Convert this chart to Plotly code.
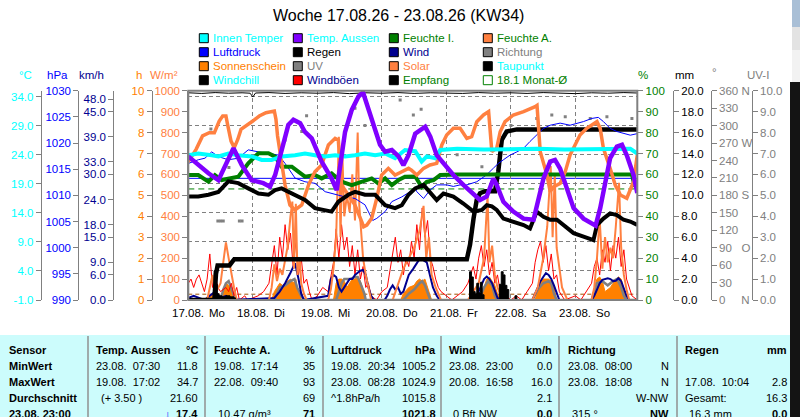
import plotly.graph_objects as go

W, H = 800, 417
def px(x): return x / W
def py(y): return 1 - y / H

FONT = "Liberation Sans, Arial, Helvetica, sans-serif"
CYAN = "#00ffff"; PURPLE = "#8000ff"; GREEN = "#008000"; CORAL = "#ff8040"
BLUE = "#0000ff"; NAVY = "#000090"; GRAY = "#808080"; ORANGE = "#ff8000"
RED = "#ff0000"; BLACK = "#000000"; BROWN = "#a05000"

# ---------------- data (hours since 17.08. 00:00) ----------------
day_hours = [0, 24, 48, 72, 96, 120, 144]
day_dates = ["17.08.", "18.08.", "19.08.", "20.08.", "21.08.", "22.08.", "23.08."]
day_names = ["Mo", "Di", "Mi", "Do", "Fr", "Sa", "So"]

temp_out_h = [0, 3.7, 7.5, 11.2, 14.9, 16.8, 19.9, 23.6, 27.9, 30.4, 32.3, 34.7, 37.2, 39.1, 41.6, 43.4, 45.9, 49.6, 53.3, 55.2, 56.4, 58.3, 60.8, 63.3, 65.0, 66.4, 68.8, 71.3, 73.2, 75.7, 78.2, 80.0, 81.9, 84.4, 88.1, 90.0, 92.4, 94.9, 98.6, 102.3, 106.1, 108.5, 111.0, 113.5, 114.7, 117.2, 120.9, 124.7, 128.4, 130.2, 132.1, 134.6, 136.4, 138.3, 140.8, 143.3, 147.0, 151.5, 153.2, 155.1, 156.9, 159.4, 161.3, 163.1, 165.6, 167.0]
temp_out = [23.7, 22.2, 20.8, 19.6, 23.1, 25.1, 22.2, 19.6, 19.1, 18.5, 20.5, 25.1, 29.1, 30.0, 29.4, 27.9, 26.8, 22.8, 19.9, 17.9, 21.6, 27.9, 31.7, 34.0, 34.7, 32.8, 29.1, 25.7, 24.5, 24.8, 23.7, 22.2, 23.9, 27.6, 28.8, 27.1, 23.9, 22.5, 20.5, 18.8, 17.1, 16.2, 16.8, 19.9, 18.8, 15.9, 14.2, 13.0, 12.8, 15.9, 19.9, 22.8, 23.1, 21.6, 18.2, 14.8, 13.0, 11.8, 14.8, 19.3, 23.4, 25.4, 25.7, 23.9, 20.5, 17.4]

temp_in_h = [0, 3.7, 8.7, 11.2, 14.9, 18.6, 23.6, 27.3, 31.0, 34.7, 39.7, 43.4, 47.1, 50.9, 54.6, 58.3, 62.0, 65.7, 69.5, 73.2, 76.9, 80.6, 84.4, 86.8, 88.7, 91.8, 93.7, 100, 110, 120, 130, 140, 150, 158, 164.4, 167]
temp_in = [23.9, 24.2, 23.9, 23.7, 24.2, 23.9, 23.7, 23.1, 23.1, 23.7, 23.9, 24.2, 23.9, 23.7, 23.9, 23.7, 23.9, 24.2, 23.9, 24.2, 23.4, 24.8, 24.6, 22.8, 23.7, 23.4, 24.8, 25.0, 24.9, 25.0, 25.0, 24.9, 25.0, 25.0, 25.0, 24.2]

hum_in_h = [0, 3.7, 7.5, 9.9, 12.4, 14.9, 18.6, 22.3, 26.1, 29.8, 32.3, 34.7, 38.5, 40.9, 43.4, 47.1, 49.6, 53.3, 57.0, 60.8, 64.5, 68.2, 70.7, 73.2, 75.7, 78.2, 80.6, 84.4, 86.8, 88.7, 91.2, 93.7, 100, 110, 120, 130, 140, 150, 160, 165.0, 165.9, 167]
hum_in = [59.7, 59.7, 56.5, 59.7, 57.3, 58.1, 58.9, 65.3, 70.1, 70.1, 68.5, 63.7, 63.7, 61.3, 58.9, 59.7, 58.1, 60.5, 56.5, 54.9, 56.5, 58.1, 55.7, 58.1, 54.9, 57.3, 58.9, 59.0, 54.1, 56.5, 57.3, 59.7, 60.0, 60.0, 59.8, 60.0, 59.9, 60.0, 60.0, 60.0, 54.9, 54.1]

hum_out_h = [0, 2.9, 5.3, 7.8, 9.7, 11.5, 12.8, 14.0, 14.6, 15.9, 17.1, 18.4, 19.6, 21.5, 24.0, 26.4, 28.9, 32.0, 32.6, 33.2, 34.5, 36.0, 37.8, 39.7, 42.2, 44.7, 47.1, 49.6, 52.1, 54.6, 55.8, 57.0, 59.5, 62.0, 64.5, 65.2, 66.4, 68.2, 70.1, 71.9, 74.4, 76.9, 79.4, 81.9, 83.0, 85.0, 87.5, 89.9, 92.4, 94.3, 96.1, 98.6, 101.1, 103.6, 105.4, 107.3, 109.8, 111.7, 112.9, 114.7, 116.0, 117.8, 120.9, 124.7, 129.0, 129.7, 130.9, 133.4, 134.6, 135.9, 138.3, 140.2, 142.0, 143.3, 145.7, 148.2, 152.0, 153.2, 154.4, 156.9, 158.8, 160.7, 163.1, 165.6, 167.0]
hum_out = [66, 72.0, 78.4, 79.9, 79.9, 85.5, 87.9, 87.9, 83.9, 75.9, 72.8, 76.7, 81.5, 83.1, 85.5, 87.9, 89.5, 90.3, 86.3, 78.4, 67.2, 54.9, 45.4, 43.0, 45.4, 54.9, 61.3, 64.5, 74.1, 77.2, 76.4, 54.9, 50.2, 45.4, 37.4, 35.0, 35.8, 39.0, 48.6, 59.7, 62.9, 59.7, 61.3, 62.9, 62.0, 59.7, 62.9, 64.5, 65.3, 74.1, 78.8, 82.0, 82.0, 77.2, 78.0, 85.2, 88.4, 90.0, 70.9, 72.5, 80.4, 85.2, 88.4, 90.0, 92.4, 93.0, 70.9, 59.7, 51.8, 54.1, 55.7, 61.3, 69.3, 72.5, 78.8, 82.0, 85.2, 82.0, 72.5, 62.9, 54.9, 50.2, 48.6, 56.5, 69.3]

dew_h = [0, 3.7, 7.5, 11.2, 14.9, 18.6, 22.3, 26.1, 29.8, 32.3, 34.7, 37.2, 39.7, 43.4, 47.1, 50.9, 53.3, 55.8, 59.5, 62.0, 65.7, 69.5, 73.2, 76.9, 79.4, 81.9, 84.4, 87.5, 89.9, 92.4, 94.9, 98.6, 102.3, 106.1, 109.2, 111.0, 112.9, 114.7, 117.2, 120.9, 124.7, 127.1, 129.6, 132.1, 134.6, 137.1, 139.6, 143.3, 147.0, 150.7, 152.0, 154.4, 156.9, 159.4, 161.9, 164.4, 167]
dew = [16.8, 16.8, 17.1, 17.6, 19.4, 19.1, 18.2, 17.3, 17.1, 17.9, 18.2, 17.6, 17.1, 16.2, 14.8, 14.5, 14.2, 15.9, 17.1, 17.6, 17.1, 17.1, 15.3, 14.8, 15.3, 17.1, 18.2, 18.8, 17.6, 16.2, 17.3, 16.8, 15.6, 14.2, 14.5, 15.3, 15.1, 14.5, 13.0, 12.5, 11.9, 11.3, 14.2, 13.3, 12.8, 12.8, 11.9, 10.5, 9.9, 9.3, 11.9, 13.0, 13.9, 13.6, 12.8, 12.5, 11.9]

pres_h = [0, 3.7, 6.2, 8.7, 11.2, 14.9, 18.6, 22.3, 26.1, 29.8, 33.5, 36.0, 37.2, 39.7, 43.4, 47.1, 50.9, 55.8, 58.3, 62.0, 65.7, 68.6, 70.1, 73.2, 75.7, 79.4, 84.4, 85.0, 87.5, 89.9, 92.4, 96.1, 98.6, 101.1, 103.6, 107.3, 110.9, 113.5, 115.3, 117.2, 119.7, 122.2, 124.7, 127.1, 129.6, 132.1, 134.6, 138.3, 142.0, 147.0, 150.1, 152.5, 154.4, 156.9, 159.4, 161.9, 164.4, 167]
pres = [1016.1, 1016.8, 1017.1, 1018.3, 1017.4, 1016.8, 1017.1, 1018.7, 1018.3, 1018.0, 1017.7, 1016.1, 1015.2, 1013.3, 1012.6, 1012.3, 1010.7, 1010.1, 1009.7, 1009.4, 1008.2, 1005.2, 1005.6, 1006.9, 1008.8, 1009.7, 1011.3, 1010.7, 1009.4, 1011.0, 1012.0, 1012.0, 1011.7, 1012.0, 1012.0, 1012.6, 1013.9, 1015.2, 1016.1, 1016.8, 1017.7, 1018.3, 1019.0, 1020.3, 1021.5, 1022.8, 1023.4, 1023.8, 1023.4, 1024.1, 1024.7, 1024.9, 1024.1, 1022.8, 1022.2, 1021.9, 1021.5, 1021.8]

rain_h = [0, 9.7, 10.3, 10.9, 15.3, 17.1, 103.6, 104.8, 106.1, 107.3, 108.5, 110.4, 114.1, 115.3, 116.6, 118.4, 122.2, 167]
rain_total = [0, 0, 2.5, 3.3, 3.3, 3.9, 3.9, 5.3, 7.8, 9.6, 10.2, 10.4, 10.4, 12.3, 15.3, 16.1, 16.3, 16.3]

rainrate_h = [9.0, 9.6, 10.2, 10.8, 11.4, 12.5, 14.0, 15.5, 17.0, 17.6, 104.0, 104.6, 105.3, 106.0, 106.7, 107.3, 108.0, 108.7, 109.3, 110.0, 115.0, 115.7, 116.4, 117.1, 117.8, 118.5, 119.2, 121.5, 122.2]
rainrate = [0, 2.8, 1.5, 0.6, 0.4, 0.3, 0.4, 0.3, 0.2, 0, 0, 2.7, 2.2, 0.8, 0.6, 1.6, 0.7, 1.7, 0.5, 0, 0, 1.5, 2.7, 2.4, 1.4, 1.0, 0, 0.4, 0]

sun_h = [0, 7, 8, 9, 10, 12, 13, 14, 15, 16, 17, 18, 31, 32, 33, 34, 35, 36, 37, 38, 39, 40, 40.6, 41.5, 42, 54, 55, 56, 57, 58, 59, 60, 61, 62, 63, 64, 65, 65.7, 79, 80, 82, 84, 85, 86, 87, 88, 89, 90, 90.5, 109, 110, 111, 112, 113, 114, 115, 116, 129, 130, 131, 132, 133, 134, 135, 136, 137, 150, 151, 152, 153, 154, 155, 156, 157, 158, 159, 160, 161, 162, 163, 167]
sun = [0, 0, 0.2, 0.3, 0, 0, 0.5, 0.8, 0.7, 0.5, 0.2, 0, 0, 0.4, 0.6, 0.8, 0.7, 0.8, 0.9, 1.0, 0.8, 1.0, 0.5, 0.3, 0, 0, 0.8, 1.0, 1.0, 0.9, 0.6, 0.8, 1.0, 1.0, 1.1, 0.9, 0.5, 0, 0, 0.3, 0.6, 0.7, 0.9, 1.0, 0.9, 1.0, 0.6, 0.2, 0, 0, 0.6, 1.0, 1.1, 0.9, 0.7, 0.3, 0, 0, 0.5, 0.8, 1.0, 1.0, 1.0, 0.9, 0.6, 0, 0, 0.6, 1.0, 1.1, 0.9, 0.4, 0.5, 0.6, 0.8, 1.0, 1.1, 1.0, 0.5, 0, 0]

solar_h = [0, 7, 8, 9, 10, 12, 13, 14, 15, 16, 17, 18, 30, 31, 32, 33, 34, 35, 36, 37, 38, 38.7, 39.3, 40, 40.6, 41.5, 42, 43, 44, 52, 53, 54, 55, 56, 56.6, 57.3, 58, 59, 60, 61, 62, 63, 63.6, 64.3, 65, 66, 67, 68, 76, 78, 80, 82, 84, 86, 87.5, 88.5, 89.5, 90.5, 92, 94, 104, 106, 108, 110, 111.3, 112, 113, 114, 115, 117, 128, 130, 132, 133.5, 134.8, 135.5, 136.3, 137, 138, 139, 141, 150, 151, 152, 153, 154, 155, 156, 157, 158, 159, 160.2, 161, 162, 163, 164, 167]
solar = [0, 0, 60, 120, 30, 80, 180, 275, 200, 120, 60, 0, 0, 60, 170, 90, 150, 120, 200, 260, 400, 470, 150, 460, 120, 200, 80, 30, 0, 0, 50, 150, 300, 780, 300, 700, 400, 500, 420, 600, 380, 800, 450, 300, 200, 120, 60, 0, 0, 80, 150, 200, 250, 330, 450, 200, 300, 120, 60, 0, 0, 40, 80, 200, 500, 180, 260, 120, 60, 0, 0, 60, 200, 350, 640, 300, 600, 250, 150, 60, 0, 0, 60, 200, 390, 150, 300, 180, 250, 200, 350, 560, 250, 120, 50, 0, 0]

uv_h = [0, 12, 13, 14, 15, 16, 17, 18, 32, 33, 34, 36, 38, 39.5, 40.5, 42, 43, 55, 56, 57, 58, 60, 62, 63, 64, 65.5, 66, 80, 82, 84, 86, 87, 88, 89, 90, 108, 110, 111.5, 113, 114, 115, 128, 130, 132, 134, 135, 136, 137, 150, 151, 152, 154, 156, 158, 159.5, 161, 162, 163, 167]
uv = [0, 0, 0.5, 0.8, 0.9, 0.5, 0.2, 0, 0, 0.3, 0.6, 0.7, 0.9, 1.0, 0.6, 0.2, 0, 0, 0.4, 0.8, 1.0, 1.0, 1.1, 1.1, 0.8, 0.3, 0, 0, 0.3, 0.5, 0.8, 0.9, 0.7, 0.3, 0, 0, 0.6, 0.9, 0.7, 0.2, 0, 0, 0.5, 0.8, 0.9, 0.8, 0.3, 0, 0, 0.4, 0.8, 0.9, 0.7, 0.9, 1.0, 0.6, 0.2, 0, 0]

wind_h = [0, 2, 4, 6, 8, 10, 12, 14, 16, 32, 34, 36, 38, 39.7, 41, 42, 43, 52, 53, 54, 55, 56, 57, 58, 59, 60, 61, 62, 63, 64, 65, 66, 67, 68, 69, 73, 74, 75, 76, 77, 78, 79, 80, 81, 82, 83.7, 86.2, 88.7, 89.9, 91, 92.4, 93.5, 106, 108, 109, 110, 111, 112, 113, 114, 115, 116, 128, 129, 130, 131, 132, 133, 134, 135, 136, 137, 138, 150, 151, 152, 153, 154, 155, 156, 157, 158, 159, 160, 161, 162, 163, 164, 167]
wind = [0.5, 1, 0.5, 0, 1, 2, 0.5, 1, 0, 0.5, 2, 4, 6.5, 8.8, 5, 1.5, 0, 1, 5, 6, 5.5, 3, 2, 3, 4, 5, 5, 6, 6.5, 7, 7.2, 6, 3, 1, 0, 0, 1, 2.5, 3.5, 2.5, 3, 1.5, 2, 4, 6, 7.5, 10, 9, 6, 3, 1, 0, 0, 2, 3.5, 5, 5.6, 5, 4, 2, 0.5, 0, 0, 1.5, 3, 4.5, 5.5, 6.4, 6, 5, 3.5, 1.5, 0, 0, 1, 2.5, 4, 4.8, 5, 5.2, 5, 4.5, 4.6, 5.2, 4.5, 2.5, 1, 0, 0]

gust_h = [0, 1, 2, 3, 4, 5, 6, 7, 8, 9, 10, 11, 12, 14, 15, 16, 17, 18, 19, 21, 22, 26, 28, 30, 31, 32, 33, 34, 35, 36, 37, 38, 39, 40, 41, 42, 43, 44, 45, 46, 48, 50, 52, 53, 54, 55, 56, 57, 58, 59, 60, 61, 62, 63, 64, 65, 66, 67, 68, 70, 72, 74, 75, 76, 77, 78, 79, 80, 81, 82, 83, 84, 85, 86, 87, 88, 89, 90, 91, 92, 93, 94, 96, 98, 100, 102, 104, 106, 107, 108, 109, 110, 111, 112, 113, 114, 115, 116, 118, 120, 122, 124, 126, 128, 129, 130, 131, 132, 133, 134, 135, 136, 137, 138, 140, 144, 146, 148, 150, 151, 152, 153, 154, 155, 156, 157, 158, 159, 160, 161, 162, 163, 164, 165, 167]
gust = [4, 5, 3, 5, 6, 4, 2, 5, 11, 3, 6, 3, 2, 3, 2, 4, 1, 3, 0, 1, 0, 1, 2, 4, 9, 13, 6, 15, 10, 18, 12, 16, 8, 14, 6, 10, 4, 5, 2, 0, 1, 3, 2, 6, 9, 17, 10, 18, 12, 15, 8, 13, 6, 12, 5, 8, 3, 4, 1, 0, 2, 3, 7, 10, 15, 9, 12, 6, 10, 8, 14, 10, 18, 12, 22, 15, 19, 10, 8, 5, 3, 2, 1, 0, 1, 2, 4, 8, 5, 10, 13, 8, 12, 6, 9, 4, 6, 2, 1, 0, 1, 0, 2, 4, 9, 12, 14, 9, 13, 7, 11, 5, 6, 2, 0, 1, 0, 2, 4, 8, 10, 6, 12, 9, 14, 7, 13, 10, 15, 8, 12, 5, 3, 1, 0]

dir_h = [8.4, 11, 12, 13, 15.1, 19, 20, 36, 42.2, 44.0, 62, 65.7, 78.8, 83.7, 86.6, 100, 109.2, 120, 129.6, 135.2, 140.2, 144.5, 149.5, 155.7, 158.8, 165.0]
dir_deg = [294, 136, 136, 136, 228, 136, 136, 275, 290, 317, 330, 300, 344, 318, 328, 250, 229, 300, 312, 318, 315, 295, 312, 315, 292, 312]

rx_h = [0, 5, 10, 15, 20, 23, 24, 25, 30, 36, 42, 48, 54, 60, 66, 72, 78, 84, 90, 96, 102, 108, 114, 120, 126, 132, 138, 144, 150, 156, 162, 167]
rx = [99.0, 98.7, 99.1, 98.8, 99.0, 98.8, 97.0, 98.9, 99.1, 98.7, 99.0, 98.8, 99.1, 98.6, 99.0, 98.8, 99.1, 98.7, 99.0, 98.9, 98.7, 99.1, 98.8, 99.0, 98.7, 99.1, 98.9, 98.6, 99.0, 98.8, 99.1, 98.9]

MONTH_AVG = 18.1        # °C
FREEZE = 0.0            # °C
PRESSURE_REF = 1013.25  # hPa

# axis ticks
tc_vals = [-1, 4, 9, 14, 19, 24, 29, 34]
hpa_vals = [990, 995, 1000, 1005, 1010, 1015, 1020, 1025, 1030]
kmh_vals = [0, 6, 9, 15, 18, 24, 30, 33, 39, 45, 48]
h_vals = list(range(0, 11))
wm2_vals = list(range(0, 1001, 100))
pct_vals = list(range(0, 101, 10))
mm_vals = list(range(0, 21, 2))
deg_vals = list(range(0, 361, 30))
deg_text = ["0\u00a0\u00a0\u00a0\u00a0\u00a0N", "30", "60", "90\u00a0\u00a0\u00a0O", "120", "150", "180\u00a0S",
            "210", "240", "270\u00a0W", "300", "330", "360\u00a0N"]
uv_vals = list(range(0, 11))

# ---------------- geometry ----------------
PL, PR, PT, PB = 188.3, 637.3, 90.7, 300.0
XD = [px(PL), px(PR)]
YD = [py(PB), py(PT)]
TICKFONT = 11.5

fig = go.Figure()

def line(x, y, ax, color, width, **kw):
    fig.add_trace(go.Scatter(x=x, y=y, yaxis=ax, mode="lines", line=dict(color=color, width=width),
                             hoverinfo="skip", showlegend=False, **kw))

# y  : h (sunshine)      y2: UV      y3: direction    y4: km/h
# y5 : W/m2              y6: mm      y7: hPa          y8: %        y9: °C
line(sun_h, sun, "y", ORANGE, 1, fill="tozeroy", fillcolor=ORANGE)
line(uv_h, uv, "y2", GRAY, 2.5)
fig.add_trace(go.Scatter(x=dir_h, y=dir_deg, yaxis="y3", mode="markers",
                         marker=dict(symbol="square", size=3, color=GRAY), hoverinfo="skip", showlegend=False))
line(gust_h, gust, "y4", RED, 1)
line(wind_h, wind, "y4", NAVY, 2)
line(solar_h, solar, "y5", CORAL, 2)
line(rainrate_h, rainrate, "y6", BLACK, 1, fill="tozeroy", fillcolor=BLACK, line_shape="hv")
line(rain_h, rain_total, "y6", BLACK, 4.5)
line(pres_h, pres, "y7", BLUE, 1)
line(rx_h, rx, "y8", BLACK, 1)
line(hum_in_h, hum_in, "y8", GREEN, 4)
line(hum_out_h, hum_out, "y8", CORAL, 3.5)
line(dew_h, dew, "y9", BLACK, 4)
line(temp_in_h, temp_in, "y9", CYAN, 4)
line(temp_out_h, temp_out, "y9", PURPLE, 4.5)

def fmt(v, d):
    return ("%." + str(d) + "f") % v

def yax(rng, vals, text, color, side, position=None, anchor="free", overlay=True, **kw):
    d = dict(range=rng, domain=YD, tickmode="array", tickvals=vals, ticktext=text,
             tickfont=dict(family=FONT, size=TICKFONT, color=color), showline=True, linecolor=GRAY,
             linewidth=1, ticks="outside", ticklen=5, tickcolor=GRAY, showgrid=False,
             zeroline=False, side=side, anchor=anchor, fixedrange=True, automargin=False)
    if anchor == "free":
        d["position"] = position
    if overlay:
        d["overlaying"] = "y"
    d.update(kw)
    return d

layout = dict(
    width=W, height=H, autosize=False,
    margin=dict(l=0, r=0, t=0, b=0, pad=0, autoexpand=False),
    paper_bgcolor="white", plot_bgcolor="white", showlegend=False,
    font=dict(family=FONT, size=12),
    xaxis=dict(domain=XD, range=[0, 167], tickmode="array", tickvals=day_hours[1:],
               showgrid=True, gridcolor=GRAY, griddash="4px,3px", gridwidth=1,
               showticklabels=False, ticks="", zeroline=False, showline=False,
               anchor="y", fixedrange=True, automargin=False),
    yaxis=yax([0, 10], h_vals, [str(v) for v in h_vals], ORANGE, "left", px(151.7), overlay=False),
    yaxis2=yax([0, 10], uv_vals, [fmt(v, 1) for v in uv_vals], GRAY, "right", px(751.7)),
    yaxis3=yax([0, 360], deg_vals, deg_text, GRAY, "right", px(710.7)),
    yaxis4=yax([0, 50], kmh_vals, [fmt(v, 1) for v in kmh_vals], NAVY, "left", px(113.3)),
    yaxis5=yax([0, 1000], wm2_vals, [str(v) for v in wm2_vals], CORAL, "left", anchor="x"),
    yaxis6=yax([0, 20], mm_vals, [fmt(v, 1) for v in mm_vals], BLACK, "right", px(673)),
    yaxis7=yax([990, 1030], hpa_vals, [str(v) for v in hpa_vals], BLUE, "left", px(78.3)),
    yaxis8=yax([0, 100], pct_vals, [str(v) for v in pct_vals], GREEN, "right", anchor="x"),
    yaxis9=yax([-1, 35], tc_vals, [fmt(v, 1) for v in tc_vals], CYAN, "left", px(40.7),
               showgrid=True, gridcolor=GRAY, griddash="4px,3px", gridwidth=1),
)

shapes = []
ann = []

def rect(x0, y0, x1, y1, fill, line_color=None, lw=0, layer="above"):
    shapes.append(dict(type="rect", xref="paper", yref="paper", x0=px(x0), x1=px(x1),
                       y0=py(y1), y1=py(y0), fillcolor=fill,
                       line=dict(color=line_color or fill, width=lw), layer=layer))

def text(x, y, s, color=BLACK, size=12, bold=False, anchor="left", xref="paper", xshift=0):
    ann.append(dict(x=(px(x) if xref == "paper" else x), y=py(y), xref=xref, yref="paper",
                    text=("<b>%s</b>" % s) if bold else s, showarrow=False, xanchor=anchor,
                    yanchor="middle", xshift=xshift, borderpad=0,
                    font=dict(family=FONT, size=size, color=color)))

# reference lines
shapes.append(dict(type="line", xref="x", yref="y9", x0=0, x1=167, y0=MONTH_AVG, y1=MONTH_AVG,
                   line=dict(color=GREEN, width=1, dash="6px,4px"), layer="below"))
shapes.append(dict(type="line", xref="x", yref="y9", x0=0, x1=167, y0=FREEZE, y1=FREEZE,
                   line=dict(color=BROWN, width=1, dash="4px,3px"), layer="below"))
shapes.append(dict(type="line", xref="x", yref="y7", x0=0, x1=167, y0=PRESSURE_REF, y1=PRESSURE_REF,
                   line=dict(color=BLUE, width=1), layer="below"))
# plot frame
shapes.append(dict(type="rect", xref="paper", yref="paper", x0=XD[0], x1=XD[1], y0=YD[0], y1=YD[1],
                   line=dict(color=GRAY, width=2), fillcolor="rgba(0,0,0,0)", layer="above"))

# title
text(398, 16, "Woche 17.08.26 - 23.08.26 (KW34)", size=16, anchor="center")

# legend
legend_rows = [
    [("Innen Temper", CYAN, CYAN), ("Temp. Aussen", PURPLE, CYAN), ("Feuchte I.", GREEN, GREEN), ("Feuchte A.", CORAL, GREEN)],
    [("Luftdruck", BLUE, BLUE), ("Regen", BLACK, BLACK), ("Wind", NAVY, NAVY), ("Richtung", GRAY, GRAY)],
    [("Sonnenschein", ORANGE, ORANGE), ("UV", GRAY, GRAY), ("Solar", CORAL, CORAL), ("Taupunkt", BLACK, CYAN)],
    [("Windchill", BLACK, CYAN), ("Windböen", RED, NAVY), ("Empfang", BLACK, GREEN), ("18.1 Monat-Ø", "white", GREEN)],
]
leg_x = [199.3, 293.3, 389.3, 483.3]
leg_y = [38.2, 52.2, 66.2, 80.2]
for r, row in enumerate(legend_rows):
    for c, (lab, box, tcol) in enumerate(row):
        bx, by = leg_x[c], leg_y[r]
        rect(bx, by - 4.5, bx + 9, by + 4.5, box, GREEN if box == "white" else BLACK, 1)
        text(bx + 12.5, by, lab, color=tcol, size=11.5)

# axis titles
for x, s, col in [(25, "°C", CYAN), (57.5, "hPa", BLUE), (91.7, "km/h", NAVY), (138.5, "h", ORANGE),
                  (164, "W/m²", CORAL), (643, "%", GREEN), (684, "mm", BLACK), (714, "°", GRAY),
                  (758, "UV-I", GRAY)]:
    text(x, 75 if s != "°" else 72, s, color=col, size=11.5, anchor="center")

# x labels
for h, d, n in zip(day_hours, day_dates, day_names):
    text(h, 313, d, size=11.5, anchor="center", xref="x")
    text(h, 313, n, size=11.5, anchor="left", xref="x", xshift=20)

# ---------------- table ----------------
rect(0, 335, 790, 420, "#ccfcfc", layer="below")
for sx in [88, 205, 323, 441, 559, 677]:
    shapes.append(dict(type="line", xref="paper", yref="paper", x0=px(sx), x1=px(sx),
                       y0=py(336), y1=py(420), line=dict(color="#909090", width=1.5)))

row_labels = ["Sensor", "MinWert", "MaxWert", "Durchschnitt", "23.08. 23:00"]
row_y = [350, 365.5, 381.5, 397.5, 413.5]
col_left = [95, 213, 330, 448, 567, 684]
col_right = [198.7, 316, 437, 553, 670, 788]
col_heads = ["Temp. Aussen", "Feuchte A.", "Luftdruck", "Wind", "Richtung", "Regen"]
col_units = ["°C", "%", "hPa", "km/h", "", "mm"]
col_left_texts = [
    ["23.08.  07:30", "19.08.  17:02", "(+ 3.50 )", ""],
    ["19.08.  17:14", "22.08.  09:40", "", "10.47 g/m³"],
    ["19.08.  20:34", "23.08.  08:28", "^1.8hPa/h", ""],
    ["23.08.  23:00", "20.08.  16:58", "", "0 Bft NW"],
    ["23.08.  08:00", "23.08.  18:08", "", "315 °"],
    ["", "17.08.  10:04", "Gesamt:", "16.3 mm"],
]
col_right_texts = [
    ["11.8", "34.7", "21.60", "17.4"],
    ["35", "93", "69", "71"],
    ["1005.2", "1024.9", "1015.8", "1021.8"],
    ["0.0", "16.0", "2.1", "0.0"],
    ["N", "N", "W-NW", "NW"],
    ["", "2.8", "16.3", "0.0"],
]
nb = lambda s: s.replace(" ", "\u00a0")
TS = 11
for lab, y in zip(row_labels, row_y):
    text(8, y, nb(lab), size=TS, bold=True)
for c in range(6):
    text(col_left[c], row_y[0], nb(col_heads[c]), size=TS, bold=True)
    if col_units[c]:
        text(col_right[c], row_y[0], col_units[c], size=TS, bold=True, anchor="right")
    for r in range(4):
        lt = col_left_texts[c][r]
        if lt:
            off = 4 if r == 3 else (5 if (c == 0 and r == 2) else 0)
            text(col_left[c] + off, row_y[r + 1], nb(lt), size=TS)
        rt = col_right_texts[c][r]
        if rt:
            text(col_right[c], row_y[r + 1], rt, size=TS, bold=(r == 3), anchor="right")
text(168, row_y[4], "↓", color=BLUE, size=TS, bold=True, anchor="center")

# window edge decorations
rect(790, 82, 800, 420, "#141414")
rect(792, 0, 800, 27, "#a9bfd6")
rect(792, 27, 800, 50, "#e3e3e3")
rect(792, 50, 800, 82, "#f2f2f2")

layout["shapes"] = shapes
layout["annotations"] = ann
fig.update_layout(**layout)

fig.write_html("out.html", config={"displayModeBar": False},
               post_script="document.documentElement.style.margin='0px';document.body.style.margin='0px';document.body.style.overflow='hidden';")
